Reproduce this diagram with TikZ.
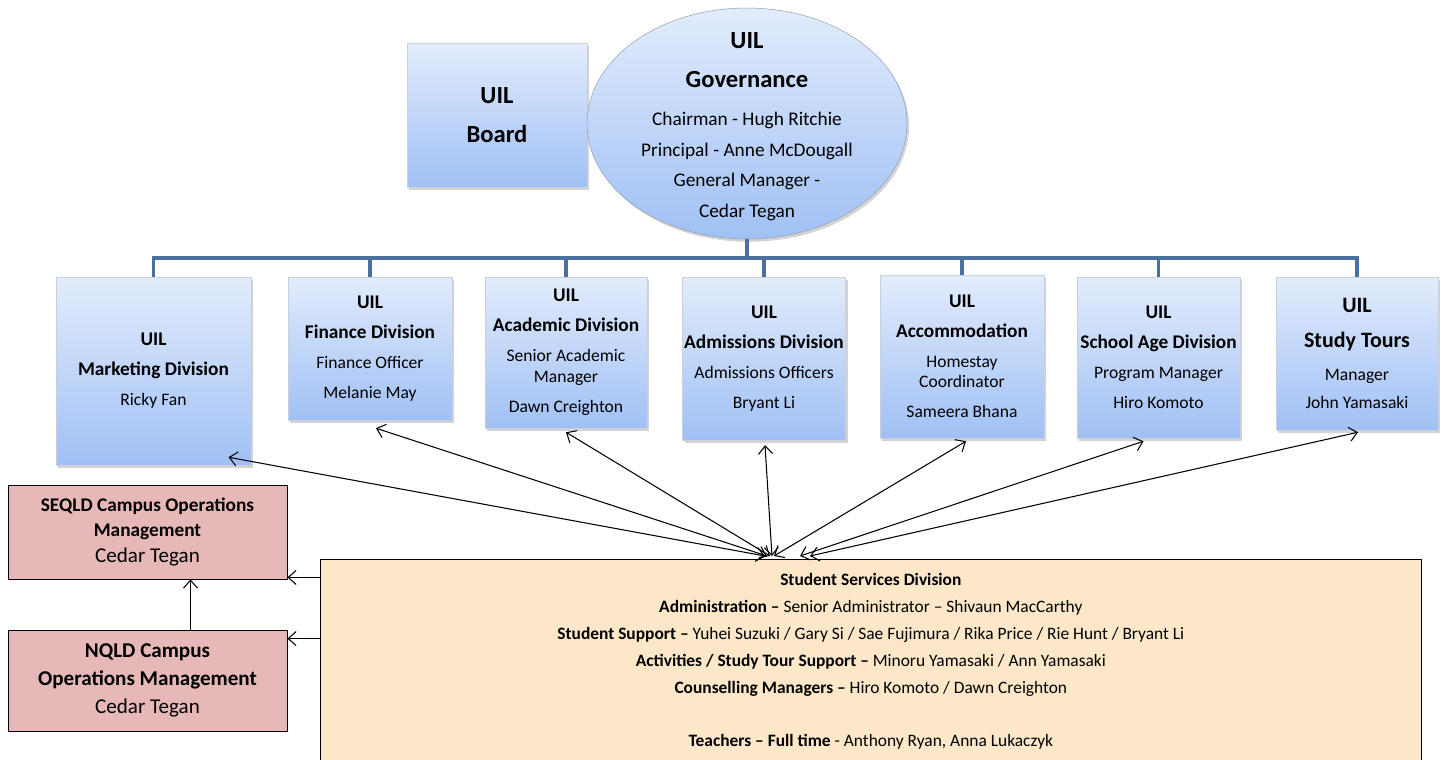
\documentclass[tikz,border=0pt]{standalone}
\usepackage{fontspec}
\setmainfont{Carlito}
\usetikzlibrary{shapes.geometric,shadows,arrows.meta,calc}
\definecolor{divtop}{RGB}{226,236,252}
\definecolor{divbot}{RGB}{160,192,245}
\definecolor{treeblue}{RGB}{74,112,160}
\definecolor{campus}{RGB}{230,184,184}
\definecolor{services}{RGB}{252,232,200}
\definecolor{edge}{RGB}{150,160,180}
\newcommand\hd[1]{{\fontsize{11}{17}\selectfont\bfseries #1}}
\newcommand\tl[1]{{\fontsize{12.5}{17}\selectfont\bfseries #1}}
\tikzset{
  divbox/.style={draw=edge!50, line width=0.3pt, top color=divtop, bottom color=divbot,
    drop shadow={shadow xshift=1.2pt, shadow yshift=-1.6pt, opacity=0.35},
    align=center, inner sep=1pt, font=\fontsize{10}{17}\selectfont},
  campusbox/.style={draw=black, line width=0.5pt, fill=campus, align=center, minimum width=5.58cm},
  ssbox/.style={draw=black, line width=0.5pt, fill=services},
  tree/.style={draw=treeblue, line width=2.2pt, line join=miter},
  link/.style={line width=0.6pt},
}
\begin{document}
\begin{tikzpicture}[x=0.02cm, y=-0.02cm, >={Straight Barb[length=4.5pt,width=8pt]}, line join=round]
\useasboundingbox (0,0) rectangle (1445,760);
% board and governance
\node[divbox, minimum width=3.6cm, minimum height=2.88cm, font=\fontsize{14}{22.5}\selectfont\bfseries] (board) at (497,115) {UIL\\Board};
\node[divbox, ellipse, draw=edge, minimum width=6.4cm, minimum height=4.62cm] (gov) at (747,123.5) {};
\node[align=center, inner sep=0pt, font=\fontsize{11}{17.5}\selectfont] (govtext) at ($(gov.center)+(0,3)$)
  {{\fontsize{14}{22}\selectfont\bfseries UIL}\\[5pt]{\fontsize{14}{22}\selectfont\bfseries Governance}\\[4pt]Chairman - Hugh Ritchie\\Principal - Anne McDougall\\General Manager -\\Cedar Tegan};
% divisions
\node[divbox, minimum width=3.9cm, minimum height=3.76cm] (mkt) at (153.5,371) {\hd{UIL}\\\hd{Marketing Division}\\Ricky Fan};
\node[divbox, minimum width=3.28cm, minimum height=2.86cm] (fin) at (370,348.5) {\hd{UIL}\\\hd{Finance Division}\\Finance Officer\\Melanie May};
\node[divbox, minimum width=3.24cm, minimum height=3.02cm] (acad) at (566,352.5) {\hd{UIL}\\\hd{Academic Division}\\Senior Academic\\[-5pt]Manager\\Dawn Creighton};
\node[divbox, minimum width=3.24cm, minimum height=3.26cm] (adm) at (764,358.5) {\hd{UIL}\\\hd{Admissions Division}\\Admissions Officers\\Bryant Li};
\node[divbox, minimum width=3.28cm, minimum height=3.26cm] (accom) at (962,356.5) {\hd{UIL}\\\hd{Accommodation}\\Homestay\\[-5.5pt]Coordinator\\Sameera Bhana};
\node[divbox, minimum width=3.26cm, minimum height=3.22cm] (school) at (1158.5,357.5) {\hd{UIL}\\\hd{School Age Division}\\Program Manager\\Hiro Komoto};
\node[divbox, minimum width=3.24cm, minimum height=3.06cm] (tours) at (1357,353.5) {\tl{UIL}\\[3.4pt]\tl{Study Tours}\\[1.7pt]Manager\\[-1pt]John Yamasaki};
\foreach \b in {mkt,fin,acad,adm,accom,school,tours}
  \draw[tree] (gov.south) -- ++(0,19) -| (\b.north);
% campus management
\node[campusbox, minimum height=1.88cm, font=\fontsize{12}{14.7}\selectfont] (seqld) at (147.5,532)
  {{\fontsize{11}{14}\selectfont\bfseries SEQLD Campus Operations}\\{\fontsize{11}{14}\selectfont\bfseries Management}\\Cedar Tegan};
\node[campusbox, minimum height=2.02cm, font=\fontsize{12}{16}\selectfont] (nqld) at (147.5,680.5)
  {\textbf{NQLD Campus}\\\textbf{Operations Management}\\Cedar Tegan};
% student services
\node[ssbox, anchor=north west, minimum width=22.02cm, minimum height=5cm] (ss) at (320,559) {};
\node[align=center, inner sep=0pt, anchor=north, font=\fontsize{9.9}{15.3}\selectfont] (sstext) at ($(ss.north)+(0,14)$)
  {\textbf{Student Services Division}\\
   \textbf{Administration –} Senior Administrator – Shivaun MacCarthy\\
   \textbf{Student Support –} Yuhei Suzuki / Gary Si / Sae Fujimura / Rika Price / Rie Hunt / Bryant Li\\
   \textbf{Activities / Study Tour Support –} Minoru Yamasaki / Ann Yamasaki\\
   \textbf{Counselling Managers –} Hiro Komoto / Dawn Creighton\\[15.3pt]
   \textbf{Teachers – Full time} - Anthony Ryan, Anna Lukaczyk};
% arrows
\coordinate (sq) at ($(seqld.south east)+(0,-2)$);
\draw[link,->] (sq -| ss.west) -- (sq);
\coordinate (nq) at ($(nqld.north east)+(0,9)$);
\draw[link,->] (nq -| ss.west) -- (nq);
\coordinate (nv) at ($(nqld.north)+(43,0)$);
\draw[link,->] (nv) -- (nv |- seqld.south);
\foreach \b/\dx/\dy/\hx in {mkt/75/-8/445, fin/6/8/447, acad/0/4/450, adm/1/5/452, accom/4/3/454, school/-15/3/480, tours/1/2/490}
  \draw[link,<->] ($(\b.south)+(\dx,\dy)$) -- ($(ss.north west)+(\hx,-3)$);
\end{tikzpicture}
\end{document}
